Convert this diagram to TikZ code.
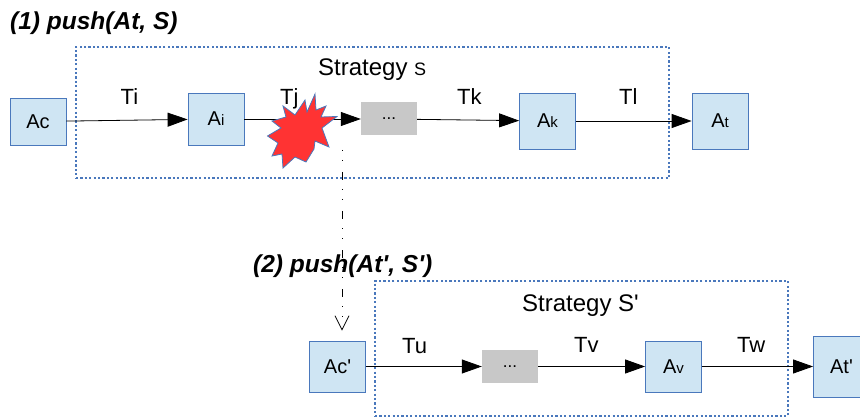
\documentclass[tikz,border=0pt]{standalone}
\usepackage{fontspec}
\setmainfont{Liberation Sans}
\usepackage{tikz}
\usetikzlibrary{arrows.meta}
\definecolor{boxfill}{HTML}{CFE5F3}
\definecolor{boxline}{HTML}{4A78BC}
\definecolor{gapfill}{HTML}{C8C8C8}
\definecolor{burstfill}{HTML}{FF3333}
\def\sizeof#1{\fontsize{#1}{#1}\selectfont}
\def\lowtext#1{{\sizeof{15}#1}}
\def\tick{\textquotesingle}
\tikzset{state box/.style={draw=boxline, fill=boxfill, line width=0.8pt, inner sep=0pt, minimum width=56pt, font=\sizeof{20}}}
\tikzset{gap box/.style={fill=gapfill, inner sep=0pt, minimum width=56pt, minimum height=33pt, font=\sizeof{17}}}
\tikzset{strategy box/.style={draw=boxline, line width=1.1pt, dash pattern=on 2.2pt off 2.2pt, inner sep=0pt}}
\tikzset{step arrow/.style={draw=black, line width=0.8pt, -{Triangle[length=20pt,width=14pt]}}}
\tikzset{push arrow/.style={draw=black, line width=0.5pt, dash pattern=on 1pt off 9pt on 1pt off 11pt on 8pt off 9pt, -{Straight Barb[length=14pt,width=14pt,line width=0.8pt,open]}}}
\tikzset{title label/.style={anchor=base west, inner sep=0pt, font=\sizeof{24.5}\bfseries\itshape}}
\tikzset{step label/.style={anchor=base west, inner sep=0pt, font=\sizeof{22}}}
\tikzset{strategy label/.style={anchor=base west, inner sep=0pt, font=\sizeof{24}}}
\begin{document}
\begin{tikzpicture} [x=1pt,y=-1pt]

\useasboundingbox (0,0) rectangle (860,417);
\clip (0,0) rectangle (860,417);

%% strategy frames
\node [strategy box, minimum width=593pt, minimum height=131pt] (strategy_s) at (372.5,112.5) {};
\node [strategy box, minimum width=413pt, minimum height=135pt] (strategy_s2) at (581.5,348.5) {};

\node [title label] (push_s) at (10,30) {(1) push(At, S)};
\node [title label] (push_s2) at (253,272) {(2) push(At\tick, S\tick)};
\node [strategy label] (strategy_s_label) at (318,76) {Strategy {\sizeof{18}S}};
\node [strategy label] (strategy_s2_label) at (522,311) {Strategy S\tick};

%% first row
\node [state box, minimum height=47pt] (ac) at (38,121.5) {Ac};
\node [state box, minimum height=52pt] (ai) at (216,119) {A\lowtext{i}};
\node [gap box] (gap_s) at (389,119) {...};
\node [state box, minimum height=56pt] (ak) at (547.5,121) {A\lowtext{k}};
\node [state box, minimum height=56pt] (at) at (720,121) {A\lowtext{t}};

\draw[step arrow] (ac) to (ai);
\draw[step arrow] (ai) to (gap_s);
\draw[step arrow] (gap_s) to (ak);
\draw[step arrow] (ak) to (at);

\node [step label] (ti) at (120.5,105) {Ti};
\node [step label] (tj) at (280,105) {Tj};
\node [step label] (tk) at (457,105) {Tk};
\node [step label] (tl) at (619,105) {Tl};

%% second row
\node [state box, minimum height=51pt] (ac2) at (337.5,366.5) {Ac\tick};
\node [gap box] (gap_s2) at (510,366.5) {...};
\node [state box, minimum height=51pt] (av) at (673.5,366.5) {A\lowtext{v}};
\node [state box, minimum height=61pt] (at2) at (841.5,366.5) {At\tick};

\draw[step arrow] (ac2) to (gap_s2);
\draw[step arrow] (gap_s2) to (av);
\draw[step arrow] (av) to (at2);

\node [step label] (tu) at (402,353) {Tu};
\node [step label] (tv) at (574,352) {Tv};
\node [step label] (tw) at (737,352) {Tw};

%% failure
\coordinate (fail) at (342,150);
\draw[push arrow, shorten >=10pt] (fail) to (fail |- ac2.north);

\draw[fill=burstfill, draw=boxline, line width=0.8pt]
  (315,94) -- (316,110) -- (326,106) -- (321,117) -- (337,116.5) -- (322,128)
  -- (329,147) -- (315,141) -- (314,149) -- (306,162) -- (295,157) -- (283,168)
  -- (282,154) -- (272,156) -- (278,143) -- (267.5,136) -- (281,128) -- (272,121)
  -- (286,117) -- (283,106) -- (295,115) -- (305,100) -- (307,112) -- cycle;

\end{tikzpicture}
\end{document}
